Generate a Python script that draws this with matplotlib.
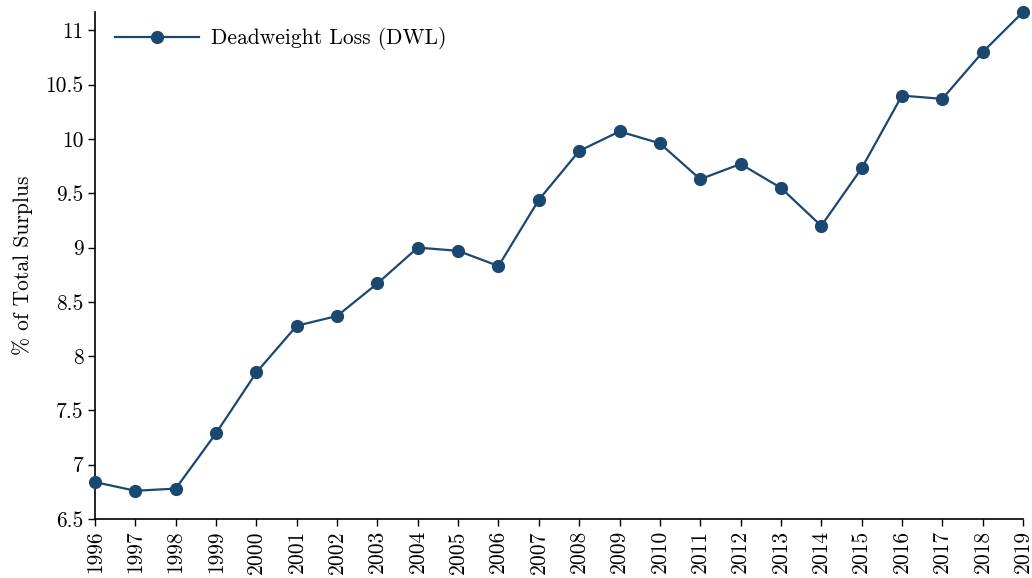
import numpy as np
import matplotlib
matplotlib.use('Agg')
import matplotlib.pyplot as plt

years = list(range(1996, 2020))
dwl = [6.84, 6.76, 6.78, 7.29, 7.85, 8.28, 8.37, 8.67, 9.00, 8.97, 8.83, 9.44,
       9.89, 10.07, 9.96, 9.63, 9.77, 9.55, 9.20, 9.73, 10.40, 10.37, 10.80, 11.17]
yticks = [6.5, 7, 7.5, 8, 8.5, 9, 9.5, 10, 10.5, 11]
ytick_labels = ['6.5', '7', '7.5', '8', '8.5', '9', '9.5', '10', '10.5', '11']

plt.rcParams['font.family'] = ['cmr10', 'DejaVu Serif']
plt.rcParams['axes.formatter.use_mathtext'] = True

color = '#1b4870'
fs = 15.5

fig = plt.figure(figsize=(10.32, 5.78), dpi=100)
ax = fig.add_axes([95/1032, 59/578, 928/1032, 507/578])

ax.plot(years, dwl, color=color, lw=1.6, marker='o', ms=8.5,
        label='Deadweight Loss (DWL)', clip_on=False, zorder=3)

ax.set_xlim(1996, 2019)
ax.set_ylim(6.5, 11.17)
ax.set_xticks(years)
ax.set_xticklabels([str(y) for y in years], rotation=90, fontsize=fs)
ax.set_yticks(yticks)
ax.set_yticklabels(ytick_labels, fontsize=fs)
ax.set_ylabel('% of Total Surplus', fontsize=fs, labelpad=9)

for s in ['top', 'right']:
    ax.spines[s].set_visible(False)
for s in ['left', 'bottom']:
    ax.spines[s].set_linewidth(1.2)
ax.tick_params(direction='out', length=5, width=1.0, pad=3)

ax.legend(loc='upper left', frameon=False, fontsize=fs, handlelength=3.9,
          handletextpad=0.55, borderaxespad=0.3, bbox_to_anchor=(0.005, 1.0))

fig.savefig('out.png', dpi=100)
